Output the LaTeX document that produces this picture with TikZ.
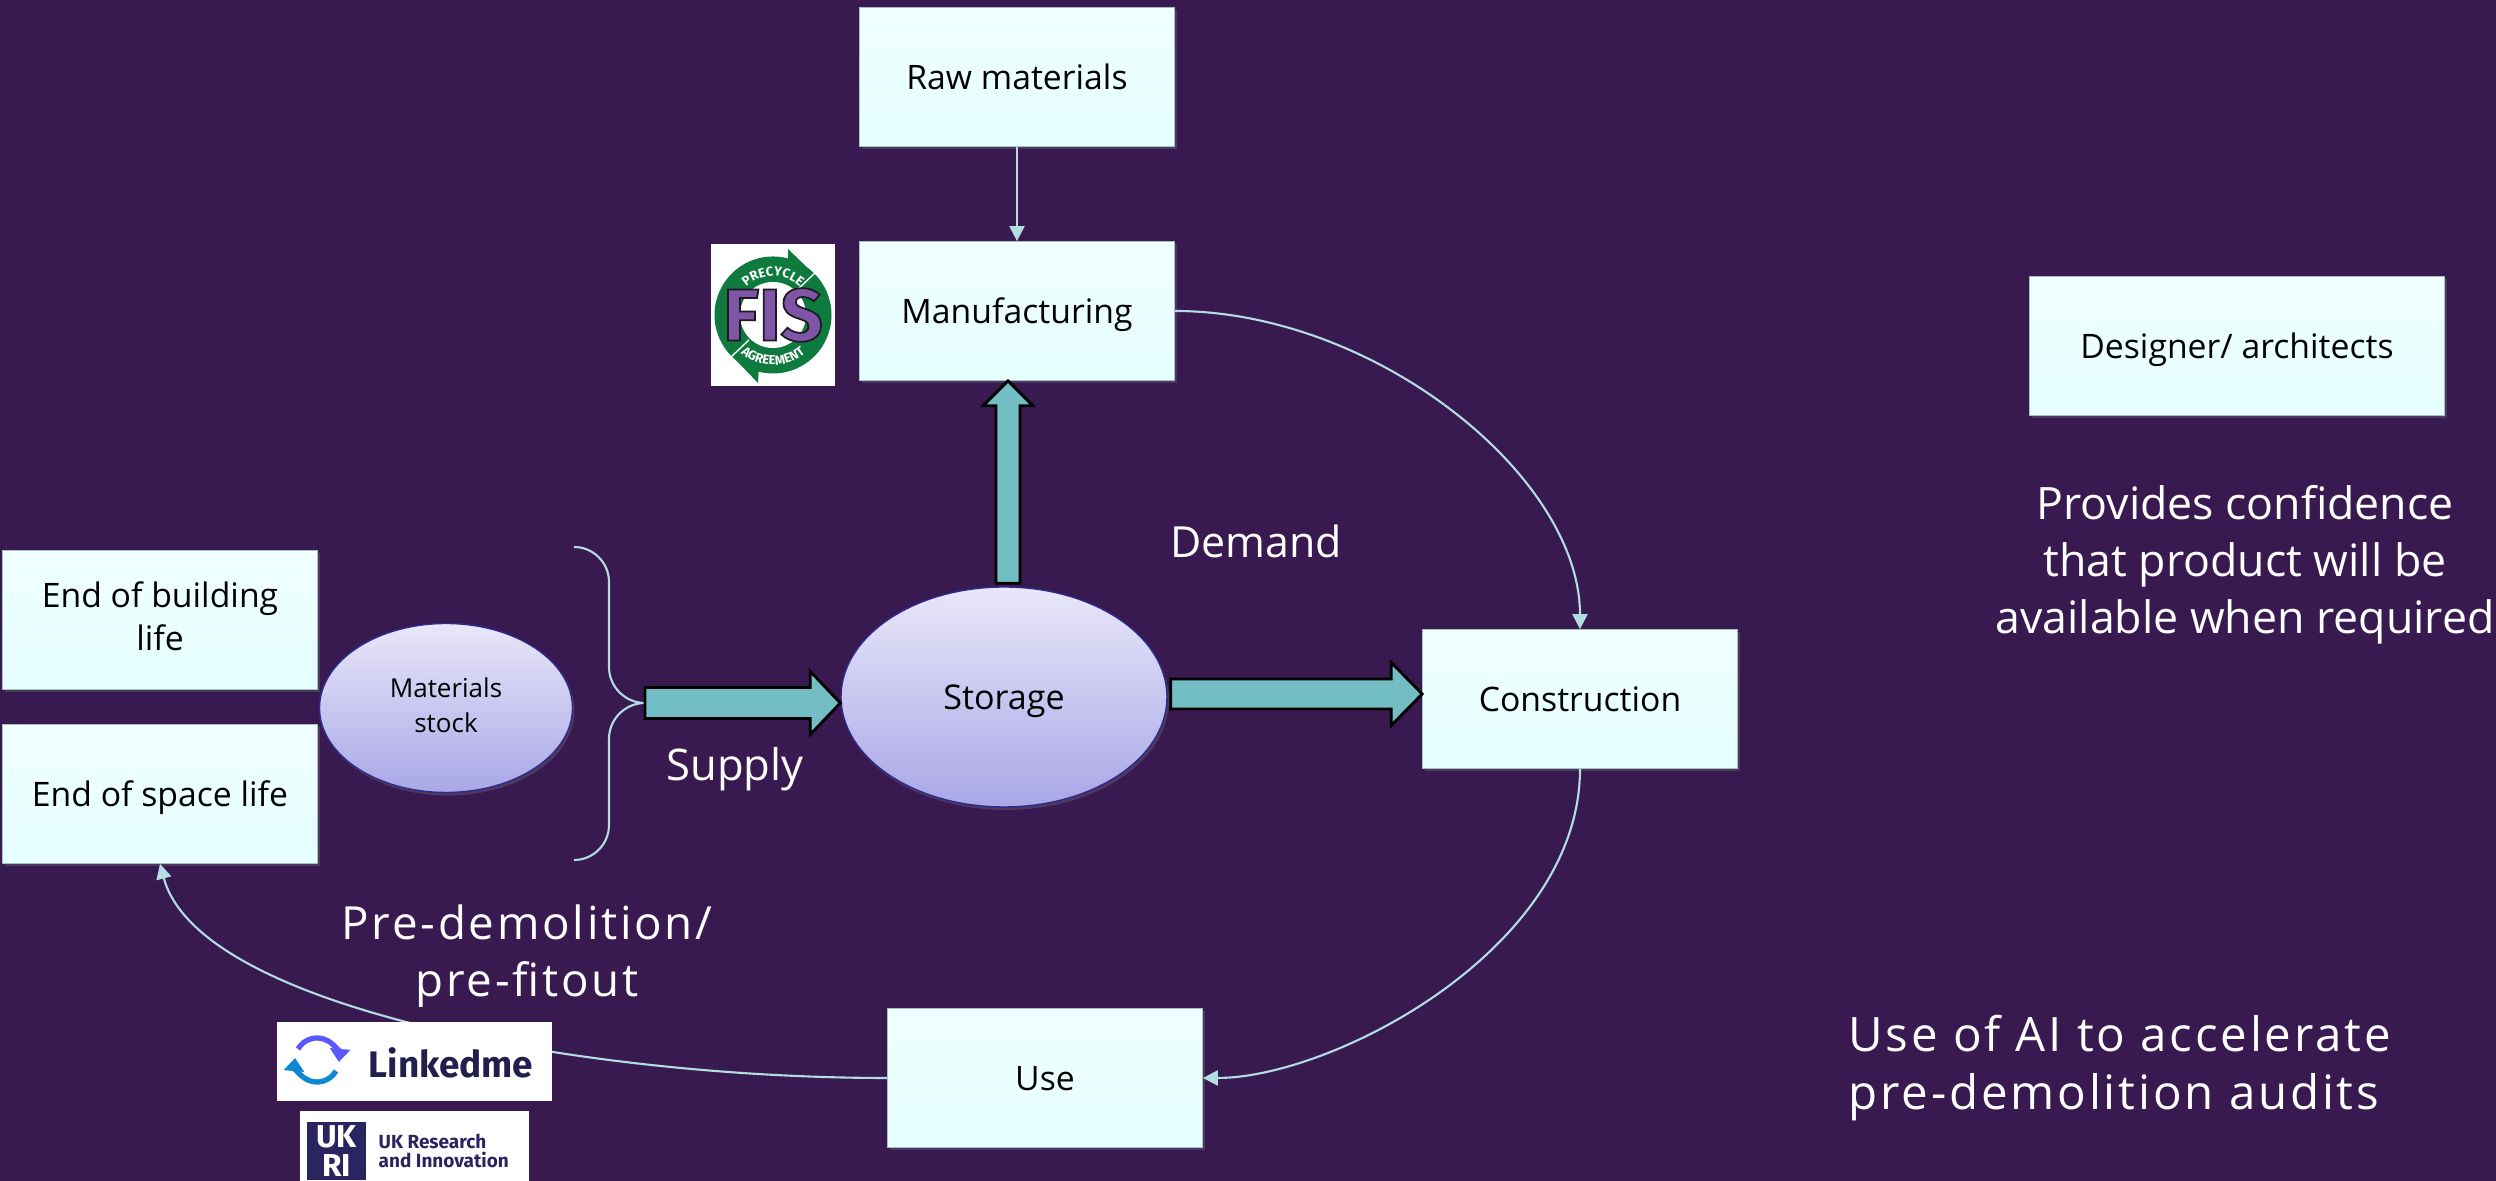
\documentclass[tikz,border=0pt]{standalone}
\usepackage{fontspec}
\setmainfont{Open Sans}
\newfontfamily\widefont[LetterSpace=6]{Open Sans}
\newfontfamily\logofont{Fira Sans}
\usepackage{tikz}
\usetikzlibrary{arrows.meta,calc,positioning,shapes.geometric,shadows,decorations.text}

\definecolor{bgpurple}{HTML}{381A50}
\definecolor{linkblue}{HTML}{B4DDE2}
\definecolor{fatteal}{HTML}{72BEC4}
\definecolor{fisgreen}{HTML}{0F7A3E}
\definecolor{fispurple}{HTML}{7F55A6}
\definecolor{ukrinavy}{HTML}{2A2560}
\definecolor{pooltop}{HTML}{E9E7FA}
\definecolor{poolbottom}{HTML}{A9A7E6}
\definecolor{poolline}{HTML}{2E2B8C}

\begin{document}
\begin{tikzpicture}[>={Triangle[length=.15cm,width=.15cm,fill=linkblue]},node distance=3cm,
        stagebox/.style={rectangle,minimum width=3.15cm,minimum height=1.39cm,inner sep=0pt,draw=linkblue!70!gray,very thin,
          top color=white!94!cyan,bottom color=white!90!cyan,font=\fontsize{9.6}{12.3}\selectfont,align=center,
          execute at begin node={\rule{0pt}{1em}},execute at end node={\rule[-.24em]{0pt}{.24em}},
          drop shadow={shadow xshift=.02cm,shadow yshift=-.03cm,opacity=.3}},
        pool/.style={ellipse,inner sep=0pt,draw=poolline,thin,top color=pooltop,bottom color=poolbottom,align=center,
          execute at begin node={\rule{0pt}{1em}},execute at end node={\rule[-.24em]{0pt}{.24em}},
          drop shadow={shadow xshift=.02cm,shadow yshift=-.03cm,opacity=.3}},
        twolines/.style={execute at begin node={\rule{0pt}{1.2em}}},
        note/.style={text=white,align=center,font=\fontsize{12.7}{16.3}\selectfont},
        widenote/.style={text=white,align=center,font=\widefont\fontsize{13}{16.3}\selectfont},
        link/.style={->,draw=linkblue,line width=.6pt},
        logobox/.style={rectangle,fill=white,inner sep=0pt},
        fatarrow/.style n args={3}{draw=black,fill=fatteal,line width=.8pt,to path={
          ($(\tikztostart)!#1!90:(\tikztotarget)$) -- ($(\tikztotarget)!#3!(\tikztostart)!#1!90:(\tikztotarget)$) --
          ($(\tikztotarget)!#3!(\tikztostart)!#2!90:(\tikztotarget)$) -- (\tikztotarget) --
          ($(\tikztotarget)!#3!(\tikztostart)!#2!-90:(\tikztotarget)$) --
          ($(\tikztotarget)!#3!(\tikztostart)!#1!-90:(\tikztotarget)$) -- ($(\tikztostart)!#1!-90:(\tikztotarget)$) -- cycle}}]

        \path[use as bounding box,fill=bgpurple] (0,0) rectangle (24.96,11.81);

        \node [stagebox]  (raw)    at (10.17,11.04) {Raw materials};
        \node [stagebox]  (manuf)  [below of=raw,node distance=2.34cm] {Manufacturing};
        \node [pool,minimum width=3.26cm,minimum height=2.2cm,font=\fontsize{9.7}{13}\selectfont] (storage) at (10.04,4.84) {Storage};
        \node [stagebox]  (constr) at (15.80,4.82) {Construction};
        \node [stagebox]  (use)    at (10.45,1.03) {Use};
        \node [stagebox]  (space)  at (1.60,3.87) {End of space life};
        \node [stagebox,twolines]  (build)  [above of=space,node distance=1.74cm] {End of building\\life};
        \node [pool,twolines,minimum width=2.53cm,minimum height=1.69cm,font=\fontsize{7.4}{10}\selectfont] (stock) at (4.46,4.73) {Materials\\stock};
        \node [stagebox,minimum width=4.15cm] (designer) at (22.37,8.35) {Designer/ architects};

        \node [note,font=\fontsize{12.2}{16}\selectfont] (demand)  at (12.56,6.40) {Demand};
        \node [note,font=\fontsize{12.4}{16}\selectfont] (supply)  at (7.35,4.12) {Supply};
        \node [widenote] (predem)  at (5.27,2.25) {Pre-demolition/\\pre-fitout};
        \node [note] (confid)  at (22.45,6.16) {Provides confidence\\that product will be\\available when required};
        \node [widenote,font=\widefont\fontsize{13.5}{16.3}\selectfont,align=left,anchor=west] (audits) at (18.36,1.13) {Use of AI to accelerate\\pre-demolition audits};

        % bracket in front of the supply arrow
        \coordinate (bracetip) at (6.45,4.78);
        \draw[draw=linkblue,line width=.6pt] (5.74,6.34) arc[start angle=90,end angle=0,radius=.35] -- (6.09,5.14)
          arc[start angle=180,end angle=270,radius=.36] -- (bracetip)
          arc[start angle=90,end angle=180,radius=.36] -- (6.09,3.56) arc[start angle=0,end angle=-90,radius=.35];

        \path
          (raw)          edge[link] (manuf)
          (manuf.east)   edge[link,out=0,in=90,out distance=2cm,in distance=1.53cm] (constr.north)
          (constr.south) edge[link,out=-90,in=0,out distance=1.8cm,in distance=1.3cm] (use.east)
          (use.west)     edge[link,out=180,in=-75,out distance=3cm,in distance=1.5cm] (space.south)
        ;

        \draw[fatarrow={.155cm}{.315cm}{.3cm}] (bracetip) to (bracetip -| storage.west);
        \draw[fatarrow={.15cm}{.315cm}{.31cm}] ([yshift=.03cm,xshift=.03cm]storage.east) to ([yshift=.03cm]storage.east -| constr.west);
        \draw[fatarrow={.12cm}{.25cm}{.25cm}] ([xshift=.04cm,yshift=.03cm]storage.north) to ([xshift=.04cm]storage.north |- manuf.south);

        % logos
        \node [logobox,minimum width=1.24cm,minimum height=1.42cm] (fis) at (7.73,8.66) {};
        \fill[fisgreen] (fis.center) circle (.585);
        \fill[fisgreen] ($(fis.center)+(.15,.66)$) -- ($(fis.center)+(.42,.40)$) -- ($(fis.center)+(.15,.35)$) -- cycle;
        \fill[fisgreen] ($(fis.center)+(-.15,-.68)$) -- ($(fis.center)+(-.41,-.41)$) -- ($(fis.center)+(-.13,-.35)$) -- cycle;
        \fill[white] (fis.center) circle (.33);
        \draw[white,line width=.4pt] ($(fis.center)+(.24,.25)$) -- ($(fis.center)+(.42,.42)$);
        \draw[white,line width=.4pt] ($(fis.center)+(-.24,-.25)$) -- ($(fis.center)+(-.42,-.42)$);
        \path[postaction={decorate,decoration={text along path,text align=center,
            text={|\logofont\bfseries\fontsize{3.7}{4}\selectfont\color{white}|PRECYCLE}}}]
          ($(fis.center)+(-.39,0)$) arc[start angle=180,end angle=0,radius=.39];
        \path[postaction={decorate,decoration={text along path,text align=center,
            text={|\logofont\bfseries\fontsize{3.7}{4}\selectfont\color{white}|AGREEMENT}}}]
          ($(fis.center)+(-.50,0)$) arc[start angle=180,end angle=360,radius=.50];
        \node [inner sep=0pt,text=fispurple,font=\logofont\bfseries\fontsize{21}{21}\selectfont] (fisname) at (fis.center)
          {\special{pdf:code 2 Tr 0.5 w 0.12 0.1 0.15 RG}FIS\special{pdf:code 0 Tr}};

        \node [logobox,minimum width=2.75cm,minimum height=.79cm] (linkedme) at (4.145,1.19) {};
        \node [inner sep=0pt,text=ukrinavy!80!black,font=\logofont\bfseries\fontsize{10.5}{12}\selectfont] (linkedname) at (4.51,1.18) {Linkedme};
        \coordinate (linkedicon) at (3.17,1.21);
        \draw[-{Triangle[length=.13cm,width=.2cm]},blue!65!white,line width=1.5pt] ($(linkedicon)+(-.19,.11)$) arc[start angle=150,end angle=-5,radius=.22];
        \draw[-{Triangle[length=.13cm,width=.2cm]},cyan!70!blue,line width=1.5pt] ($(linkedicon)+(.19,-.11)$) arc[start angle=-30,end angle=-185,radius=.22];

        \node [logobox,minimum width=2.29cm,minimum height=.70cm] (ukri) at (4.145,.35) {};
        \node [fill=ukrinavy,minimum width=.59cm,minimum height=.58cm,inner sep=0pt,text=white,align=center,
          font=\logofont\bfseries\fontsize{9}{8}\selectfont] (ukrimark) at (3.365,.30) {UK\\RI};
        \node [inner sep=0pt,text=ukrinavy,align=left,anchor=west,font=\logofont\fontsize{5.4}{5.6}\selectfont\bfseries] (ukriname) at (3.78,.30) {UK Research\\and Innovation};
      \end{tikzpicture}
\end{document}
